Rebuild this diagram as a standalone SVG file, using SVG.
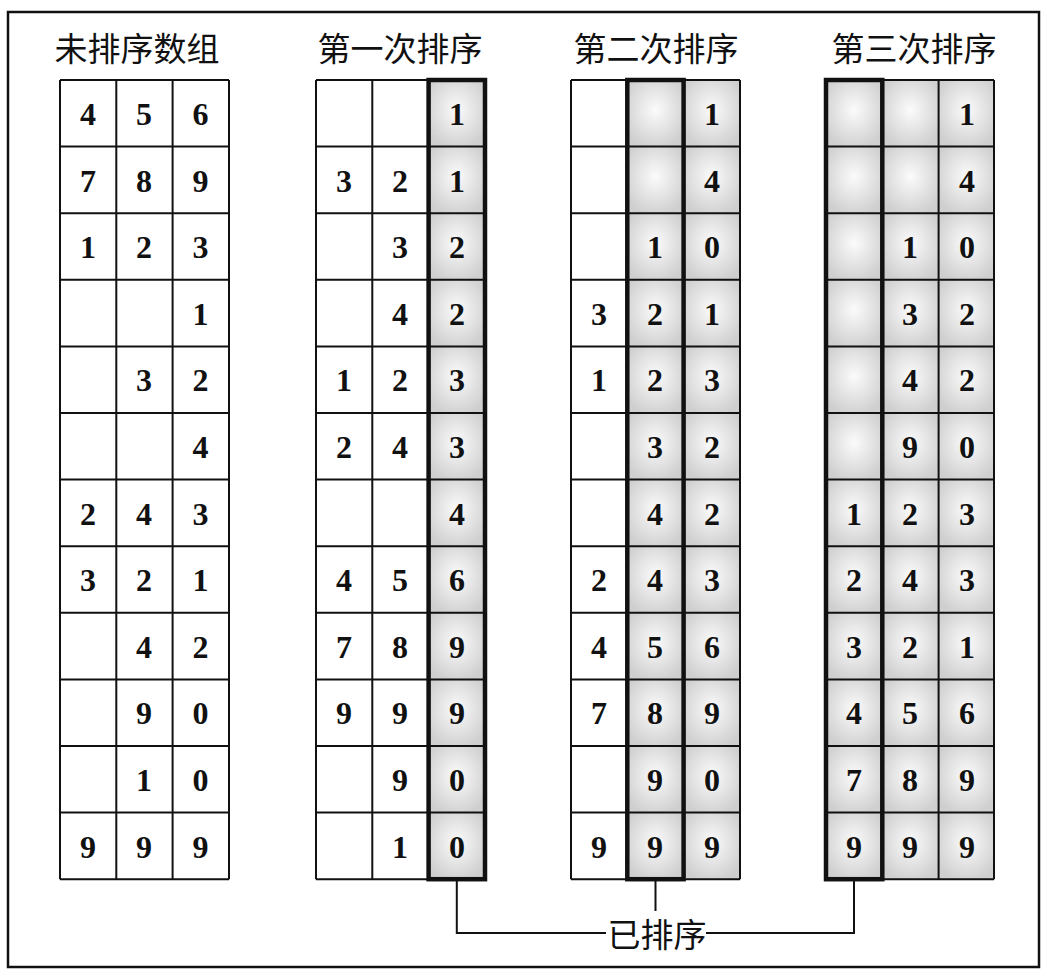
<svg xmlns="http://www.w3.org/2000/svg" width="1047" height="977" viewBox="0 0 1047 977">
<style>
.hd{font-family:"Liberation Serif","Noto Sans CJK SC",serif;font-size:33px;fill:#111;text-anchor:middle}
.n{font-family:"Liberation Serif",serif;font-size:32px;font-weight:bold;fill:#111;text-anchor:middle}
.gl{fill:none;stroke:#111;stroke-width:2}
.tk{fill:none;stroke:#111;stroke-width:4.5}
.bg{fill:#fff}
.cn{fill:none;stroke:#111;stroke-width:2}
</style>
<defs>
<radialGradient id="rg" cx="0.5" cy="0.45" r="0.6">
<stop offset="0" stop-color="#fbfbfb"/>
<stop offset="1" stop-color="#cfcfcf"/>
</radialGradient>
<pattern id="p2" patternUnits="userSpaceOnUse" x="316" y="80" width="56.3" height="66.6"><rect width="56.3" height="66.6" fill="url(#rg)"/></pattern>
<pattern id="p3" patternUnits="userSpaceOnUse" x="571" y="80" width="56.3" height="66.6"><rect width="56.3" height="66.6" fill="url(#rg)"/></pattern>
<pattern id="p4" patternUnits="userSpaceOnUse" x="826" y="80" width="56.3" height="66.6"><rect width="56.3" height="66.6" fill="url(#rg)"/></pattern>
</defs>
<rect x="0" y="0" width="1047" height="977" fill="#fff"/>
<rect x="8" y="12" width="1031" height="955" fill="none" stroke="#111" stroke-width="2.5"/>

<g id="grid1">
<text class="hd" x="137" y="61">未排序数组</text>
<rect class="bg" x="60" y="80" width="169" height="799.2"/>
<path class="gl" d="M60 80V879.2M116.3 80V879.2M172.6 80V879.2M229 80V879.2M60 80H229M60 146.6H229M60 213.2H229M60 279.8H229M60 346.4H229M60 413H229M60 479.6H229M60 546.2H229M60 612.8H229M60 679.4H229M60 746H229M60 812.6H229M60 879.2H229"/>
<text class="n" x="88" y="125">4</text><text class="n" x="144" y="125">5</text><text class="n" x="200.5" y="125">6</text>
<text class="n" x="88" y="191.6">7</text><text class="n" x="144" y="191.6">8</text><text class="n" x="200.5" y="191.6">9</text>
<text class="n" x="88" y="258.2">1</text><text class="n" x="144" y="258.2">2</text><text class="n" x="200.5" y="258.2">3</text>
<text class="n" x="200.5" y="324.8">1</text>
<text class="n" x="144" y="391.4">3</text><text class="n" x="200.5" y="391.4">2</text>
<text class="n" x="200.5" y="458">4</text>
<text class="n" x="88" y="524.6">2</text><text class="n" x="144" y="524.6">4</text><text class="n" x="200.5" y="524.6">3</text>
<text class="n" x="88" y="591.2">3</text><text class="n" x="144" y="591.2">2</text><text class="n" x="200.5" y="591.2">1</text>
<text class="n" x="144" y="657.8">4</text><text class="n" x="200.5" y="657.8">2</text>
<text class="n" x="144" y="724.4">9</text><text class="n" x="200.5" y="724.4">0</text>
<text class="n" x="144" y="791">1</text><text class="n" x="200.5" y="791">0</text>
<text class="n" x="88" y="857.6">9</text><text class="n" x="144" y="857.6">9</text><text class="n" x="200.5" y="857.6">9</text>
</g>

<g id="grid2">
<text class="hd" x="400" y="61">第一次排序</text>
<rect class="bg" x="316" y="80" width="169" height="799.2"/>
<rect fill="url(#p2)" x="428.6" y="80" width="56.4" height="799.2"/>
<path class="gl" d="M316 80V879.2M372.3 80V879.2M428.6 80V879.2M485 80V879.2M316 80H485M316 146.6H485M316 213.2H485M316 279.8H485M316 346.4H485M316 413H485M316 479.6H485M316 546.2H485M316 612.8H485M316 679.4H485M316 746H485M316 812.6H485M316 879.2H485"/>
<rect class="tk" x="428.6" y="80" width="56.4" height="799.2"/>
<text class="n" x="457" y="125">1</text>
<text class="n" x="344" y="191.6">3</text><text class="n" x="400" y="191.6">2</text><text class="n" x="457" y="191.6">1</text>
<text class="n" x="400" y="258.2">3</text><text class="n" x="457" y="258.2">2</text>
<text class="n" x="400" y="324.8">4</text><text class="n" x="457" y="324.8">2</text>
<text class="n" x="344" y="391.4">1</text><text class="n" x="400" y="391.4">2</text><text class="n" x="457" y="391.4">3</text>
<text class="n" x="344" y="458">2</text><text class="n" x="400" y="458">4</text><text class="n" x="457" y="458">3</text>
<text class="n" x="457" y="524.6">4</text>
<text class="n" x="344" y="591.2">4</text><text class="n" x="400" y="591.2">5</text><text class="n" x="457" y="591.2">6</text>
<text class="n" x="344" y="657.8">7</text><text class="n" x="400" y="657.8">8</text><text class="n" x="457" y="657.8">9</text>
<text class="n" x="344" y="724.4">9</text><text class="n" x="400" y="724.4">9</text><text class="n" x="457" y="724.4">9</text>
<text class="n" x="400" y="791">9</text><text class="n" x="457" y="791">0</text>
<text class="n" x="400" y="857.6">1</text><text class="n" x="457" y="857.6">0</text>
</g>

<g id="grid3">
<text class="hd" x="656" y="61">第二次排序</text>
<rect class="bg" x="571" y="80" width="169" height="799.2"/>
<rect fill="url(#p3)" x="627.3" y="80" width="112.7" height="799.2"/>
<path class="gl" d="M571 80V879.2M627.3 80V879.2M683.6 80V879.2M740 80V879.2M571 80H740M571 146.6H740M571 213.2H740M571 279.8H740M571 346.4H740M571 413H740M571 479.6H740M571 546.2H740M571 612.8H740M571 679.4H740M571 746H740M571 812.6H740M571 879.2H740"/>
<rect class="tk" x="627.3" y="80" width="56.3" height="799.2"/>
<text class="n" x="712" y="125">1</text>
<text class="n" x="712" y="191.6">4</text>
<text class="n" x="655" y="258.2">1</text><text class="n" x="712" y="258.2">0</text>
<text class="n" x="599" y="324.8">3</text><text class="n" x="655" y="324.8">2</text><text class="n" x="712" y="324.8">1</text>
<text class="n" x="599" y="391.4">1</text><text class="n" x="655" y="391.4">2</text><text class="n" x="712" y="391.4">3</text>
<text class="n" x="655" y="458">3</text><text class="n" x="712" y="458">2</text>
<text class="n" x="655" y="524.6">4</text><text class="n" x="712" y="524.6">2</text>
<text class="n" x="599" y="591.2">2</text><text class="n" x="655" y="591.2">4</text><text class="n" x="712" y="591.2">3</text>
<text class="n" x="599" y="657.8">4</text><text class="n" x="655" y="657.8">5</text><text class="n" x="712" y="657.8">6</text>
<text class="n" x="599" y="724.4">7</text><text class="n" x="655" y="724.4">8</text><text class="n" x="712" y="724.4">9</text>
<text class="n" x="655" y="791">9</text><text class="n" x="712" y="791">0</text>
<text class="n" x="599" y="857.6">9</text><text class="n" x="655" y="857.6">9</text><text class="n" x="712" y="857.6">9</text>
</g>

<g id="grid4">
<text class="hd" x="914" y="61">第三次排序</text>
<rect fill="url(#p4)" x="826" y="80" width="168" height="799.2"/>
<path class="gl" d="M826 80V879.2M882.3 80V879.2M938.6 80V879.2M994 80V879.2M826 80H994M826 146.6H994M826 213.2H994M826 279.8H994M826 346.4H994M826 413H994M826 479.6H994M826 546.2H994M826 612.8H994M826 679.4H994M826 746H994M826 812.6H994M826 879.2H994"/>
<rect class="tk" x="826" y="80" width="56.3" height="799.2"/>
<text class="n" x="967" y="125">1</text>
<text class="n" x="967" y="191.6">4</text>
<text class="n" x="910" y="258.2">1</text><text class="n" x="967" y="258.2">0</text>
<text class="n" x="910" y="324.8">3</text><text class="n" x="967" y="324.8">2</text>
<text class="n" x="910" y="391.4">4</text><text class="n" x="967" y="391.4">2</text>
<text class="n" x="910" y="458">9</text><text class="n" x="967" y="458">0</text>
<text class="n" x="854" y="524.6">1</text><text class="n" x="910" y="524.6">2</text><text class="n" x="967" y="524.6">3</text>
<text class="n" x="854" y="591.2">2</text><text class="n" x="910" y="591.2">4</text><text class="n" x="967" y="591.2">3</text>
<text class="n" x="854" y="657.8">3</text><text class="n" x="910" y="657.8">2</text><text class="n" x="967" y="657.8">1</text>
<text class="n" x="854" y="724.4">4</text><text class="n" x="910" y="724.4">5</text><text class="n" x="967" y="724.4">6</text>
<text class="n" x="854" y="791">7</text><text class="n" x="910" y="791">8</text><text class="n" x="967" y="791">9</text>
<text class="n" x="854" y="857.6">9</text><text class="n" x="910" y="857.6">9</text><text class="n" x="967" y="857.6">9</text>
</g>

<g id="connectors">
<path class="cn" d="M456.8 881V933H606M655.5 881V911M854 881V933H706"/>
</g>
<g id="label">
<text class="hd" x="657" y="947">已排序</text>
</g>
</svg>
